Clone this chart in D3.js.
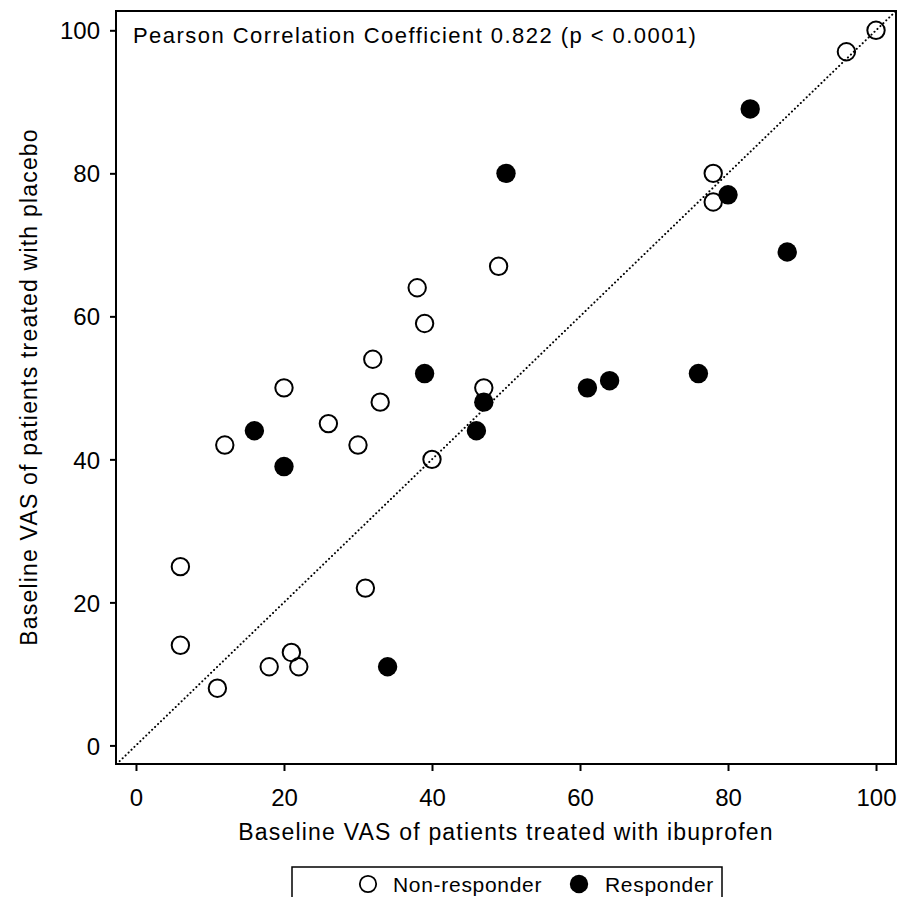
<!DOCTYPE html>
<html>
<head>
<meta charset="utf-8">
<script src="https://cdn.jsdelivr.net/npm/d3@7"></script>
<style>
  body { margin: 0; background: #fff; }
  text { font-family: "Liberation Sans", Arial, sans-serif; fill: #000; }
  .tick text { font-family: "Liberation Sans Narrow", "Liberation Sans", Arial, sans-serif; }
</style>
</head>
<body>
<svg id="chart" width="904" height="897"></svg>
<script>
// ---- data ----
const nonResponderX = [100, 96, 78, 78, 49, 38, 39, 32, 20, 47, 33, 26, 30, 12, 40, 6, 31, 6, 21, 18, 22, 11];
const nonResponderY = [100, 97, 80, 76, 67, 64, 59, 54, 50, 50, 48, 45, 42, 42, 40, 25, 22, 14, 13, 11, 11, 8];
const responderX = [83, 50, 80, 88, 39, 76, 64, 61, 47, 16, 46, 20, 34];
const responderY = [89, 80, 77, 69, 52, 52, 51, 50, 48, 44, 44, 39, 11];
const tickValues = [0, 20, 40, 60, 80, 100];
const titleText = "Pearson Correlation Coefficient 0.822 (p < 0.0001)";
const xLabel = "Baseline VAS of patients treated with ibuprofen";
const yLabel = "Baseline VAS of patients treated with placebo";
const legendItems = ["Non-responder", "Responder"];

const svg = d3.select("#chart");

// plot frame
const plotL = 116, plotR = 896, plotT = 11, plotB = 764;
const x = d3.scaleLinear().domain([-2.7, 102.7]).range([plotL, plotR]);
const y = d3.scaleLinear().domain([-2.6, 102.7]).range([plotB, plotT]);

// diagonal reference line
svg.append("line")
  .attr("x1", x(-2.6)).attr("y1", y(-2.6))
  .attr("x2", x(102.7)).attr("y2", y(102.7))
  .attr("stroke", "#000")
  .attr("stroke-width", 2)
  .attr("stroke-linecap", "round")
  .attr("stroke-dasharray", "0.1,4");

// frame
svg.append("rect")
  .attr("x", plotL).attr("y", plotT)
  .attr("width", plotR - plotL).attr("height", plotB - plotT)
  .attr("fill", "none").attr("stroke", "#000").attr("stroke-width", 2);

// axes
const xAxis = svg.append("g")
  .attr("transform", `translate(0,${plotB})`)
  .call(d3.axisBottom(x).tickValues(tickValues).tickSize(7).tickPadding(8));
const yAxis = svg.append("g")
  .attr("transform", `translate(${plotL},0)`)
  .call(d3.axisLeft(y).tickValues(tickValues).tickSize(6).tickPadding(6));

[xAxis, yAxis].forEach(a => {
  a.select(".domain").remove();
  a.selectAll(".tick line").attr("stroke", "#000").attr("stroke-width", 2);
  a.selectAll(".tick text").style("font-size", "24px").attr("fill", "#000");
});
xAxis.selectAll(".tick text").attr("dy", null).attr("y", 42);
yAxis.selectAll(".tick text").attr("dy", "0.36em").attr("x", -16);

// points
const nonResp = nonResponderX.map((d, i) => ({x: d, y: nonResponderY[i]}));
const resp = responderX.map((d, i) => ({x: d, y: responderY[i]}));

svg.append("g").selectAll("circle")
  .data(nonResp).enter().append("circle")
  .attr("cx", d => x(d.x)).attr("cy", d => y(d.y))
  .attr("r", 8.7)
  .attr("fill", "none").attr("stroke", "#000").attr("stroke-width", 2);

svg.append("g").selectAll("circle")
  .data(resp).enter().append("circle")
  .attr("cx", d => x(d.x)).attr("cy", d => y(d.y))
  .attr("r", 9.7)
  .attr("fill", "#000");

// inset title
svg.append("text")
  .attr("x", 133).attr("y", 43)
  .style("font-size", "22px")
  .style("letter-spacing", "1.45px")
  .text(titleText);

// axis labels
svg.append("text")
  .attr("x", 506).attr("y", 840)
  .attr("text-anchor", "middle")
  .style("font-size", "23px")
  .style("letter-spacing", "1.2px")
  .text(xLabel);

svg.append("text")
  .attr("transform", "translate(37,387) rotate(-90)")
  .attr("text-anchor", "middle")
  .style("font-size", "23px")
  .style("letter-spacing", "1.2px")
  .text(yLabel);

// legend
const lg = svg.append("g");
lg.append("rect")
  .attr("x", 292).attr("y", 867)
  .attr("width", 430).attr("height", 40)
  .attr("fill", "none").attr("stroke", "#000").attr("stroke-width", 1.5);

const legendPos = [{cx: 368, tx: 393, filled: false}, {cx: 579, tx: 605, filled: true}];
legendItems.forEach((name, i) => {
  const p = legendPos[i];
  lg.append("circle")
    .attr("cx", p.cx).attr("cy", 884)
    .attr("r", p.filled ? 9.2 : 8.2)
    .attr("fill", p.filled ? "#000" : "none")
    .attr("stroke", "#000").attr("stroke-width", p.filled ? 0 : 1.8);
  lg.append("text")
    .attr("x", p.tx).attr("y", 892)
    .style("font-size", "21px")
    .style("letter-spacing", "0.7px")
    .text(name);
});
</script>
</body>
</html>
